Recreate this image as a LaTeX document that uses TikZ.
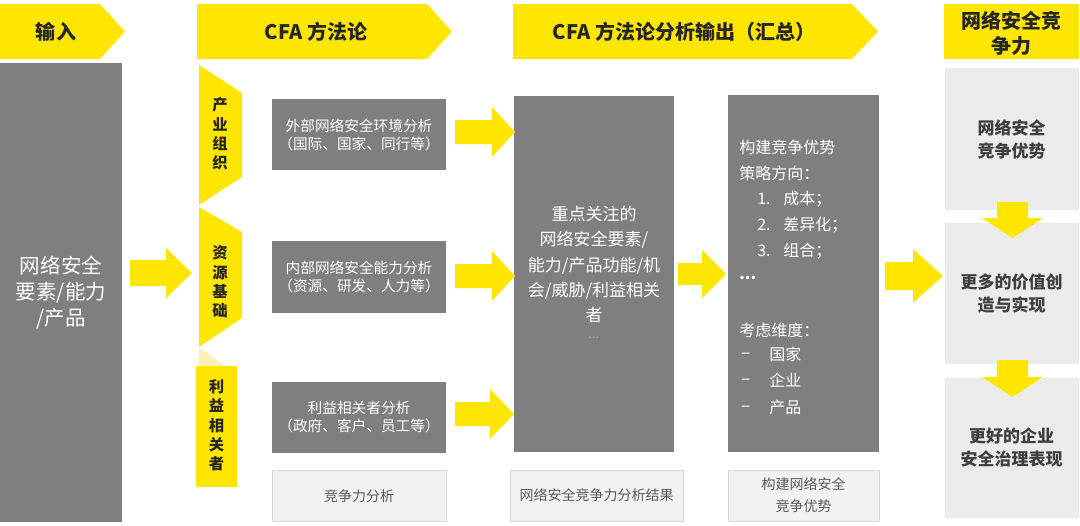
\documentclass[tikz,border=0pt]{standalone}
\usepackage{fontspec}
\setmainfont{Noto Sans CJK SC}
\definecolor{yel}{HTML}{FFE600}
\definecolor{paleyel}{HTML}{FBF1B4}
\definecolor{boxgray}{HTML}{7F7F7F}
\definecolor{lightbox}{HTML}{F2F2F2}
\definecolor{lightedge}{HTML}{D6D6D6}
\definecolor{rightbox}{HTML}{EBEBEB}
\definecolor{darktext}{HTML}{262626}
\definecolor{midtext}{HTML}{3F3F3F}
\definecolor{softtext}{HTML}{595959}
\definecolor{dotgray}{HTML}{A6A6A6}
\newcommand\pxu[1]{#1*0.75pt}
% right-pointing block arrow: x start, x head, x tip, y centre, half shaft, half head
\newcommand\rblock[6]{\fill[yel] (#1,#4-#5) -- (#2,#4-#5) -- (#2,#4-#6) -- (#3,#4) -- (#2,#4+#6) -- (#2,#4+#5) -- (#1,#4+#5) -- cycle;}
% down-pointing block arrow: x centre, y start, y head, y tip, half shaft, half head
\newcommand\dblock[6]{\fill[yel] (#1-#5,#2) -- (#1+#5,#2) -- (#1+#5,#3) -- (#1+#6,#3) -- (#1,#4) -- (#1-#6,#3) -- (#1-#5,#3) -- cycle;}
\begin{document}
\begin{tikzpicture}[x=0.75pt,y=-0.75pt,
  hdrtext/.style={font=\fontsize{15}{18.75}\selectfont\bfseries, text=darktext, align=center, inner sep=0pt},
  vtext/.style={font=\fontsize{11.5}{14.5}\selectfont\bfseries, text=darktext, align=center, inner sep=0pt},
  graybox/.style={fill=boxgray, draw=none, inner sep=0pt, text=white, align=center},
  midbox/.style={graybox, font=\fontsize{11}{13.5}\selectfont, minimum width=\pxu{174}, minimum height=\pxu{72}},
  lowbox/.style={fill=lightbox, draw=lightedge, line width=0.75pt, inner sep=0pt, text=softtext, align=center, font=\fontsize{10.5}{16.5}\selectfont, minimum height=\pxu{51}},
  rbox/.style={fill=rightbox, draw=none, inner sep=0pt, text=midtext, align=center, font=\fontsize{12.75}{17.25}\selectfont\bfseries, minimum width=\pxu{134}, minimum height=\pxu{141}},
  listline/.style={anchor=west, inner sep=0pt, text=white, font=\fontsize{12}{14}\selectfont},
]
\useasboundingbox (0,0) rectangle (1080,525);
\fill[white] (0,0) rectangle (1080,525);

% ---- headers ----
\fill[yel] (0,4) -- (100,4) -- (125,31.5) -- (100,59) -- (0,59) -- cycle;
\node[hdrtext] (hInput) at (56,31.5) {输入};
\fill[yel] (197,4) -- (427,4) -- (452,31.5) -- (427,59) -- (197,59) -- cycle;
\node[hdrtext] (hCFA) at (316,31.5) {CFA 方法论};
\fill[yel] (513,4) -- (852,4) -- (878,31.5) -- (852,59) -- (513,59) -- cycle;
\node[hdrtext] (hOut) at (684,31.5) {CFA 方法论分析输出（汇总）};
\node[fill=yel, minimum width=\pxu{135}, minimum height=\pxu{55}, inner sep=0pt] (hComp) at (1011.5,31.5) {};
\node[hdrtext] (hCompText) at (1011.5,33) {网络安全竞\\争力};

% ---- input box ----
\node[graybox, minimum width=\pxu{122}, minimum height=\pxu{459}, font=\fontsize{15.4}{19.5}\selectfont] (input) at (61,292.5) {网络安全\\要素/能力\\/产品};

% ---- vertical chevrons ----
\fill[yel] (199,65) -- (242,93) -- (242,177) -- (199,205) -- cycle;
\node[vtext] (vIndustry) at (220,134) {产\\业\\组\\织};
\fill[yel] (199,207) -- (242,232) -- (242,318) -- (199,347) -- cycle;
\node[vtext] (vResource) at (220,282) {资\\源\\基\\础};
\fill[paleyel] (199,348) -- (226,366) -- (199,366) -- cycle;
\node[fill=yel, minimum width=\pxu{41}, minimum height=\pxu{121}, inner sep=0pt] (vStakeBox) at (216.5,426.5) {};
\node[vtext] (vStake) at (216.5,425.5) {利\\益\\相\\关\\者};

% ---- analysis boxes ----
\node[midbox, minimum height=\pxu{71}] (ext) at (359,134.5) {外部网络安全环境分析\\（国际、国家、同行等）};
\node[midbox] (int) at (359,276.5) {内部网络安全能力分析\\（资源、研发、人力等）};
\node[midbox, minimum height=\pxu{71}] (stake) at (359,417) {利益相关者分析\\（政府、客户、员工等）};
\node[lowbox, minimum width=\pxu{174}] (lowA) at (359,496) {竞争力分析};

% ---- centre output box ----
\node[graybox, minimum width=\pxu{160}, minimum height=\pxu{356}] (focus) at (594,274) {};
\node[text=white, align=center, inner sep=0pt, font=\fontsize{12.75}{19.1}\selectfont] (focusText) at (594,264.5)
  {重点关注的\\网络安全要素/\\能力/产品功能/机\\会/威胁/利益相关\\者};
\node[text=dotgray, inner sep=0pt, font=\fontsize{10}{11}\selectfont] (focusDots) at (594,338) {...};
\node[lowbox, minimum width=\pxu{173}] (lowB) at (596.5,495.5) {网络安全竞争力分析结果};

% ---- strategy box ----
\node[graybox, minimum width=\pxu{151}, minimum height=\pxu{357}] (strat) at (803.5,273.5) {};
\node[listline] (s1) at (739,147) {构建竞争优势};
\node[listline] (s2) at (739,173) {策略方向：};
\node[listline] (n1) at (757,199) {1.};
\node[listline] (t1) at (783,199) {成本；};
\node[listline] (n2) at (757,225) {2.};
\node[listline] (t2) at (783,225) {差异化；};
\node[listline] (n3) at (757,251) {3.};
\node[listline] (t3) at (783,251) {组合；};
\node[listline, anchor=base west, font=\fontsize{12}{14}\selectfont\bfseries] (sdots) at (739,279) {...};
\node[listline] (s3) at (739,330) {考虑维度：};
\node[listline, font=\fontsize{13}{14}\selectfont] (d1) at (741,356) {–};
\node[listline] (e1) at (769,354) {国家};
\node[listline, font=\fontsize{13}{14}\selectfont] (d2) at (741,382) {–};
\node[listline] (e2) at (769,380) {企业};
\node[listline, font=\fontsize{13}{14}\selectfont] (d3) at (741,409) {–};
\node[listline] (e3) at (769,407) {产品};
\node[lowbox, minimum width=\pxu{151}] (lowC) at (803.5,495.5) {构建网络安全\\竞争优势};

% ---- competitiveness column ----
\node[rbox, minimum height=\pxu{142}] (rA) at (1011.5,139) {网络安全\\竞争优势};
\node[rbox] (rB) at (1011.5,293.5) {更多的价值创\\造与实现};
\node[rbox, minimum height=\pxu{140}] (rC) at (1011.5,448) {更好的企业\\安全治理表现};

% ---- block arrows ----
\rblock{130}{166}{192}{273}{13}{25}
\rblock{455}{492}{515}{132}{12}{25}
\rblock{455}{492}{515}{276}{12}{25}
\rblock{455}{490}{514}{414}{12}{25}
\rblock{678}{702}{726}{274}{11}{24}
\rblock{885}{913}{943}{276}{14}{27}
\dblock{1012.5}{202}{218}{238}{15.5}{30.5}
\dblock{1012.5}{360}{377}{397}{15.5}{30.5}
\end{tikzpicture}
\end{document}
